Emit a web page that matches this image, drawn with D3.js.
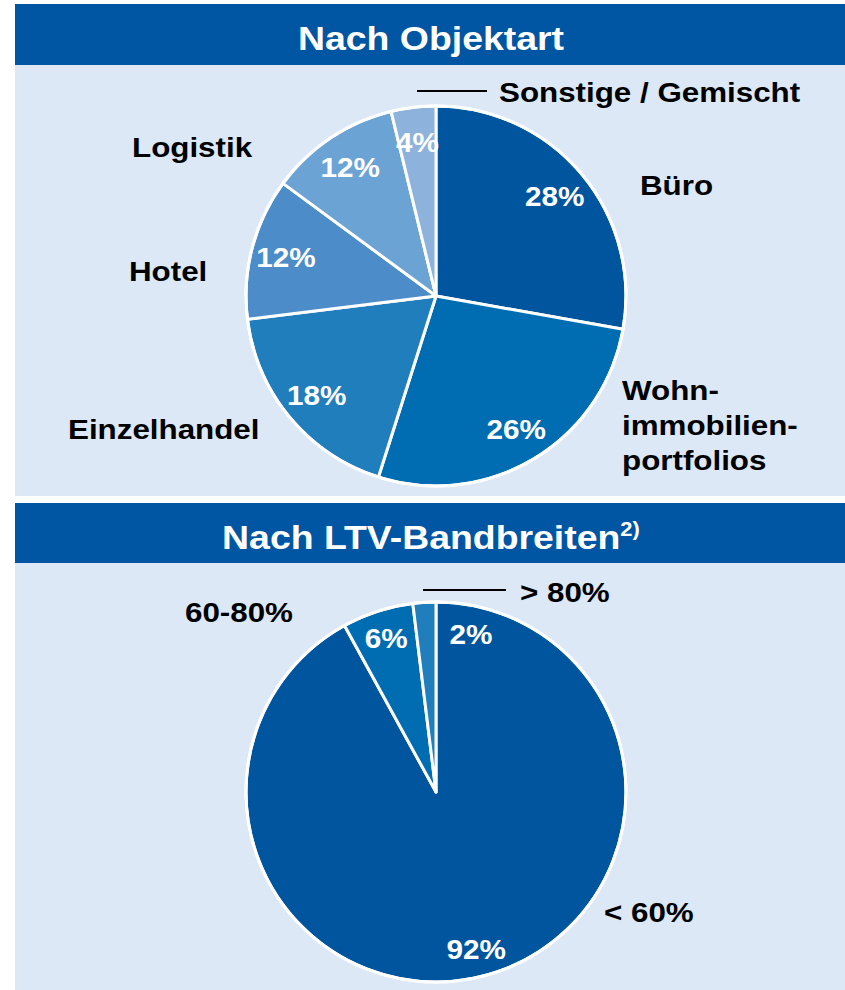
<!DOCTYPE html>
<html>
<head>
<meta charset="utf-8">
<script src="https://cdn.jsdelivr.net/npm/d3@7"></script>
<style>
  body { margin: 0; background: #fff; }
  svg { display: block; }
  text { font-family: "Liberation Sans", Arial, sans-serif; font-weight: bold; }
</style>
</head>
<body>
<svg id="chart" width="845" height="990"></svg>
<script>
const typeNames   = ["Büro", "Wohnimmobilienportfolios", "Einzelhandel", "Hotel", "Logistik", "Sonstige / Gemischt"];
const typeShares  = [27.8, 27.1, 18.15, 12.05, 11.1, 3.8];
const typePercent = ["28%", "26%", "18%", "12%", "12%", "4%"];
const ltvNames    = ["< 60%", "60-80%", "> 80%"];
const ltvShares   = [92, 6.05, 1.95];
const ltvPercent  = ["92%", "6%", "2%"];

// colours and where the outside labels sit
const typeColors = ["#00559f", "#006db3", "#217ebd", "#4c8cc8", "#6ba3d5", "#8db3dd"];
const ltvColors  = ["#00559f", "#006db3", "#217ebd"];

const typeLabels = [
  { lines: ["Büro"], x: 640, y: 195 },
  { lines: ["Wohn-", "immobilien-", "portfolios"], x: 622, y: 400 },
  { lines: ["Einzelhandel"], x: 68, y: 439 },
  { lines: ["Hotel"], x: 129, y: 281 },
  { lines: ["Logistik"], x: 132, y: 157 },
  { lines: ["Sonstige / Gemischt"], x: 499, y: 102, leader: [417, 487, 91] }
];
const ltvLabels = [
  { lines: ["< 60%"], x: 604, y: 922 },
  { lines: ["60-80%"], x: 185, y: 622 },
  { lines: ["> 80%"], x: 520, y: 602, leader: [423, 506, 590] }
];

const svg = d3.select("#chart");
const W = 845;
const blue = "#0056a2";
const panel = "#dde8f6";
const stretch = 1.1; // source font runs a bit wider than Arial

function label(g, x, y, str, size, fill, anchor) {
  return g.append("text")
    .attr("transform", `translate(${x},${y}) scale(${stretch},1)`)
    .attr("text-anchor", anchor || "middle")
    .attr("font-size", size)
    .attr("fill", fill)
    .text(str);
}

function header(y, h, title, sup) {
  svg.append("rect").attr("x", 15).attr("y", y).attr("width", W - 15).attr("height", h).attr("fill", blue);
  const t = label(svg, 431, y + 46, title, 34, "#fff");
  if (sup) {
    t.append("tspan").attr("font-size", 20).attr("dy", -13).text(sup);
  }
}

function pieChart(cx, cy, r, shares, percent, colors, labels, labelR, shift) {
  const g = svg.append("g").attr("transform", `translate(${cx},${cy})`);
  const pie = d3.pie().sort(null).value(d => d)(shares);
  const arc = d3.arc().innerRadius(0).outerRadius(r);
  const lab = d3.arc().innerRadius(labelR).outerRadius(labelR);

  g.selectAll("path.slice")
    .data(pie)
    .join("path")
    .attr("class", "slice")
    .attr("d", arc)
    .attr("fill", (d, i) => colors[i])
    .attr("stroke", "#fff")
    .attr("stroke-width", 3)
    .attr("stroke-linejoin", "round");

  g.append("circle").attr("r", r).attr("fill", "none").attr("stroke", "#fff").attr("stroke-width", 3);

  pie.forEach((d, i) => {
    const s = ((shift && shift[i]) || 0) * Math.PI / 180;
    const c = lab.centroid({ startAngle: d.startAngle + s, endAngle: d.endAngle + s });
    label(g, c[0], c[1] + 10, percent[i], 27, "#fff");
  });

  labels.forEach(l => {
    l.lines.forEach((line, j) => {
      label(svg, l.x, l.y + j * 35, line, 28.5, "#000", "start");
    });
    if (l.leader) {
      svg.append("line")
        .attr("x1", l.leader[0]).attr("x2", l.leader[1])
        .attr("y1", l.leader[2]).attr("y2", l.leader[2])
        .attr("stroke", "#000").attr("stroke-width", 2);
    }
  });
}

// top block
header(4, 61, "Nach Objektart");
svg.append("rect").attr("x", 15).attr("y", 65).attr("width", W - 15).attr("height", 431).attr("fill", panel);
pieChart(436, 296, 190, typeShares, typePercent, typeColors, typeLabels, 155);

// bottom block
header(503, 60, "Nach LTV-Bandbreiten", "2)");
svg.append("rect").attr("x", 15).attr("y", 563).attr("width", W - 15).attr("height", 427).attr("fill", panel);
pieChart(436, 792, 190, ltvShares, ltvPercent, ltvColors, ltvLabels, 162, [0, 0, 16]);
</script>
</body>
</html>
